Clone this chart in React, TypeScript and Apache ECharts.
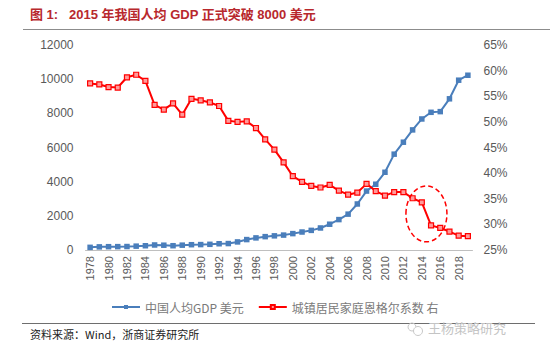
import React, { useEffect, useRef } from "react";
import * as echarts from "echarts";

const years: string[] = [];
for (let y = 1978; y <= 2019; y++) years.push(String(y));

const gdpPerCapita = [
  156, 183, 194, 197, 203, 225, 250, 294, 281, 251, 283, 310, 317, 333, 366, 377,
  473, 610, 709, 782, 829, 873, 959, 1053, 1149, 1289, 1509, 1780, 2099, 2694,
  3450, 3850, 4550, 5610, 6310, 7030, 7670, 8060, 8100, 8850, 9940, 10230,
];

const engel = [
  57.5, 57.3, 56.8, 56.7, 58.7, 59.2, 58.0, 53.3, 52.4, 53.6, 51.4, 54.5, 54.2, 53.8,
  53.1, 50.2, 50.0, 50.1, 48.8, 46.6, 44.6, 42.1, 39.4, 38.3, 37.5, 37.2, 37.7, 36.6,
  35.8, 36.2, 37.9, 36.5, 35.6, 36.3, 36.3, 35.1, 34.3, 29.8, 29.3, 28.6, 27.8, 27.7,
];

const leftTicks = { min: 0, max: 12000, interval: 2000 };
const rightTicks = { min: 25, max: 65, interval: 5 };

const titleText = "图 1:   2015 年我国人均 GDP 正式突破 8000 美元";
const sourceText = "资料来源：Wind，浙商证券研究所";
const seriesNames = ["中国人均GDP 美元", "城镇居民家庭恩格尔系数 右"];

const FONT = "Liberation Sans, Arial, Noto Sans CJK SC, sans-serif";
const CJK = "Noto Sans CJK SC, sans-serif";

export default function App() {
  const ref = useRef<HTMLDivElement>(null);
  useEffect(() => {
    document.body.style.margin = "0";
    if (!ref.current) return;
    const chart = echarts.init(ref.current, undefined, { renderer: "svg" });
    const option: any = {
      animation: false,
      backgroundColor: "#ffffff",
      grid: { left: 85.5, right: 77.5, top: 45, bottom: 104 },
      legend: {
        left: 106,
        top: 296,
        itemWidth: 28,
        itemHeight: 5,
        itemGap: 14,
        textStyle: { color: "#7A7A7A", fontSize: 12, fontFamily: CJK },
        data: seriesNames,
      },
      xAxis: {
        type: "category",
        data: years,
        boundaryGap: true,
        axisLine: { lineStyle: { color: "#BFBFBF" } },
        axisTick: { interval: 1, length: 4, lineStyle: { color: "#BFBFBF" } },
        axisLabel: {
          interval: 1,
          rotate: 90,
          color: "#595959",
          fontSize: 11,
          fontFamily: FONT,
          margin: 6,
        },
      },
      yAxis: [
        {
          type: "value",
          ...leftTicks,
          splitLine: { show: false },
          axisLine: { show: false },
          axisTick: { show: false },
          axisLabel: {
            color: "#595959",
            fontSize: 12,
            fontFamily: FONT,
            margin: 12,
            formatter: (v: number) => String(v),
          },
        },
        {
          type: "value",
          ...rightTicks,
          position: "right",
          splitLine: { show: false },
          axisLine: { show: false },
          axisTick: { show: false },
          axisLabel: {
            color: "#595959",
            fontSize: 12,
            fontFamily: FONT,
            margin: 11,
            formatter: "{value}%",
          },
        },
      ],
      series: [
        {
          name: seriesNames[0],
          type: "line",
          data: gdpPerCapita,
          yAxisIndex: 0,
          symbol: "rect",
          symbolSize: 5.5,
          lineStyle: { color: "#4A7EBB", width: 2 },
          itemStyle: { color: "#4A7EBB" },
          z: 2,
        },
        {
          name: seriesNames[1],
          type: "line",
          data: engel,
          yAxisIndex: 1,
          symbol: "rect",
          symbolSize: 5,
          lineStyle: { color: "#FF0000", width: 2 },
          itemStyle: { color: "#FF9A9A", borderColor: "#FF0000", borderWidth: 1.2 },
          z: 3,
        },
      ],
    };
    chart.setOption(option);

    const midVal = (engel[36] + engel[37]) / 2;
    const p14 = chart.convertToPixel({ xAxisIndex: 0, yAxisIndex: 1 }, [36, midVal]) as number[];
    const p15 = chart.convertToPixel({ xAxisIndex: 0, yAxisIndex: 1 }, [37, midVal]) as number[];
    const cx = (p14[0] + p15[0]) / 2;
    const cy = p14[1];

    chart.setOption({
      graphic: [
        {
          type: "text",
          left: 30,
          top: 8,
          style: {
            text: titleText,
            fill: "#B8282D",
            font: "bold 13px " + FONT,
          },
        },
        {
          type: "line",
          shape: { x1: 23, y1: 29.5, x2: 550, y2: 29.5 },
          style: { stroke: "#8C8C8C", lineWidth: 1 },
        },
        {
          type: "ellipse",
          shape: { cx, cy, rx: 20.5, ry: 28 },
          style: { fill: "none", stroke: "#FF0000", lineWidth: 1.5, lineDash: [5, 3] },
          z: 10,
        },
        {
          type: "line",
          shape: { x1: 22, y1: 323.5, x2: 535, y2: 323.5 },
          style: { stroke: "#6E6E6E", lineWidth: 1 },
        },
        {
          type: "text",
          left: 30,
          top: 328,
          style: { text: sourceText, fill: "#222", font: "11px " + CJK },
        },
        {
          type: "circle",
          shape: { cx: 412, cy: 327, r: 4 },
          style: { fill: "none", stroke: "#C8C8C8", lineWidth: 1 },
        },
        {
          type: "circle",
          shape: { cx: 418, cy: 331, r: 4.5 },
          style: { fill: "#fff", stroke: "#C8C8C8", lineWidth: 1 },
        },
        {
          type: "text",
          left: 428,
          top: 321,
          style: { text: "王杨策略研究", fill: "#C4C4C4", font: "13px " + CJK },
        },
      ],
    });
    return () => chart.dispose();
  }, []);
  return <div ref={ref} style={{ width: 550, height: 354 }} />;
}
